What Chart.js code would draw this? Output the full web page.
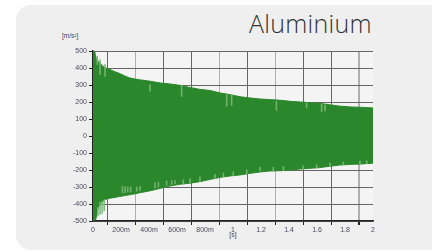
<!DOCTYPE html>
<html>
<head>
<meta charset="utf-8">
<script src="https://cdn.jsdelivr.net/npm/chart.js@4/dist/chart.umd.min.js"></script>
<style>
  html, body { margin: 0; padding: 0; background: #fff; }
  body { width: 432px; height: 252px; position: relative; overflow: hidden; }
  #panel { position: absolute; left: 16px; top: 5px; width: 440px; height: 245px;
           background: #efefef; border-radius: 15px; }
  #title { position: absolute; right: 60px; top: 6px; font-family: "Open Sans", sans-serif;
           font-weight: 300; font-size: 25px; color: #333; letter-spacing: 0.3px; }
  #unit { position: absolute; left: 62px; top: 32px; font-family: "Liberation Sans", sans-serif;
          font-size: 6.5px; color: #3a4660; }
  canvas { position: absolute; left: 0; top: 0; }
</style>
</head>
<body>
<div id="panel"></div>
<div id="title">Aluminium</div>
<div id="unit">[m/s²]</div>
<canvas id="signalChart" width="432" height="252"></canvas>
<script>
// envelope of the acceleration signal
const times = [0, 0.012, 0.02, 0.035, 0.05, 0.07, 0.09, 0.12, 0.15, 0.19, 0.23, 0.26, 0.3, 0.34,
  0.41, 0.48, 0.55, 0.62, 0.69, 0.76, 0.84, 0.91, 0.98, 1.05, 1.12, 1.19, 1.26, 1.34, 1.41,
  1.48, 1.55, 1.62, 1.69, 1.76, 1.84, 1.91, 2.0];
const upper = [485, 500, 462, 440, 428, 410, 400, 392, 380, 368, 352, 342, 335, 330,
  322, 312, 306, 298, 286, 275, 267, 253, 243, 231, 224, 218, 214, 210, 204,
  200, 196, 192, 184, 176, 171, 169, 165];
const lower = [-500, -495, -490, -430, -400, -385, -372, -366, -362, -356, -350, -346, -340, -333,
  -322, -308, -294, -284, -278, -269, -255, -243, -235, -229, -220, -212, -206, -204, -200,
  -194, -190, -186, -178, -171, -167, -165, -160];

// lighter single peaks along the edges
const peakT = [0.03, 0.05, 0.086, 0.407, 0.633, 0.955, 0.99, 1.31, 1.526, 1.633, 1.657,
  0.035, 0.05, 0.065, 0.08, 0.21, 0.229, 0.248, 0.269, 0.312, 0.336, 0.443, 0.467, 0.526, 0.562,
  0.586, 0.645, 0.693, 0.764, 0.871, 0.931, 1.002, 1.098, 1.193, 1.288, 1.36, 1.502, 1.598,
  1.693, 1.788, 1.907, 1.955];
const peakLo = [420, 361, 350, 263, 233, 175, 180, 151, 165, 141, 147,
  -470, -462, -455, -440, -335, -335, -330, -330, -325, -320, -305, -300, -290, -285,
  -280, -280, -276, -266, -250, -240, -233, -223, -205, -205, -203, -194, -188,
  -178, -170, -165, -163];
const peakHi = [470, 449, 420, 302, 298, 243, 243, 204, 194, 188, 184,
  -420, -390, -383, -375, -295, -298, -300, -300, -300, -298, -275, -272, -265, -262,
  -262, -258, -252, -240, -226, -218, -210, -200, -185, -183, -180, -175, -170,
  -160, -152, -148, -146];

const xTickLabels = ['0', '200m', '400m', '600m', '800m', '1', '1.2', '1.4', '1.6', '1.8', '2'];
const yTickLabels = ['-500', '-400', '-300', '-200', '-100', '0', '100', '200', '300', '400', '500'];

const green = '#2b872b';
const lightX = [2, 5, 7, 10]; // vertical grid lines that render lighter

const plotBg = {
  id: 'plotBg',
  beforeDraw(chart) {
    const a = chart.chartArea;
    const c = chart.ctx;
    c.save();
    c.fillStyle = '#f4f4f4';
    c.fillRect(a.left, a.top, a.right - a.left, a.bottom - a.top);
    c.restore();
  }
};

const ctx = document.getElementById('signalChart').getContext('2d');
const chart = new Chart(ctx, {
  type: 'line',
  data: {
    datasets: [
      {
        type: 'bar',
        data: peakT.map((t, i) => ({ x: t, y: [peakLo[i], peakHi[i]] })),
        backgroundColor: 'rgba(120,182,120,0.9)',
        borderWidth: 0,
        barThickness: 1,
        order: 0
      },
      {
        data: times.map((t, i) => ({ x: t, y: upper[i] })),
        borderColor: green,
        backgroundColor: green,
        borderWidth: 1,
        pointRadius: 0,
        fill: '+1',
        order: 1
      },
      {
        data: times.map((t, i) => ({ x: t, y: lower[i] })),
        borderColor: green,
        borderWidth: 1,
        pointRadius: 0,
        fill: false,
        order: 1
      }
    ]
  },
  options: {
    responsive: false,
    animation: false,
    devicePixelRatio: 1,
    layout: { padding: { left: 0, top: 51, right: 59, bottom: 13 } },
    plugins: { legend: { display: false }, tooltip: { enabled: false } },
    scales: {
      x: {
        type: 'linear',
        min: 0,
        max: 2,
        offset: false,
        afterFit: (s) => { s.height = 18; },
        ticks: {
          stepSize: 0.2,
          padding: 1,
          maxRotation: 0,
          autoSkip: false,
          color: '#4a4a5a',
          font: { family: 'Liberation Sans', size: 7 },
          callback: (v, i) => xTickLabels[i]
        },
        grid: {
          color: (c) => lightX.includes(c.index) ? '#b0b0b0' : '#666',
          lineWidth: (c) => c.index === 10 ? 2 : 1,
          tickLength: 4,
          tickColor: '#222'
        },
        border: { color: '#222', width: 1.5 },
        title: {
          display: true,
          text: '[s]',
          color: '#3a4660',
          font: { family: 'Liberation Sans', size: 7 },
          padding: { top: 0, bottom: 0 }
        }
      },
      y: {
        min: -500,
        max: 500,
        afterFit: (s) => { s.width = 93; },
        ticks: {
          stepSize: 100,
          padding: 2,
          color: '#4a4a5a',
          font: { family: 'Liberation Sans', size: 7 },
          callback: (v, i) => yTickLabels[i]
        },
        grid: {
          color: '#666',
          lineWidth: 1,
          tickLength: 4,
          tickColor: '#222'
        },
        border: { color: '#222', width: 1.5 }
      }
    }
  },
  plugins: [plotBg]
});
</script>
</body>
</html>
